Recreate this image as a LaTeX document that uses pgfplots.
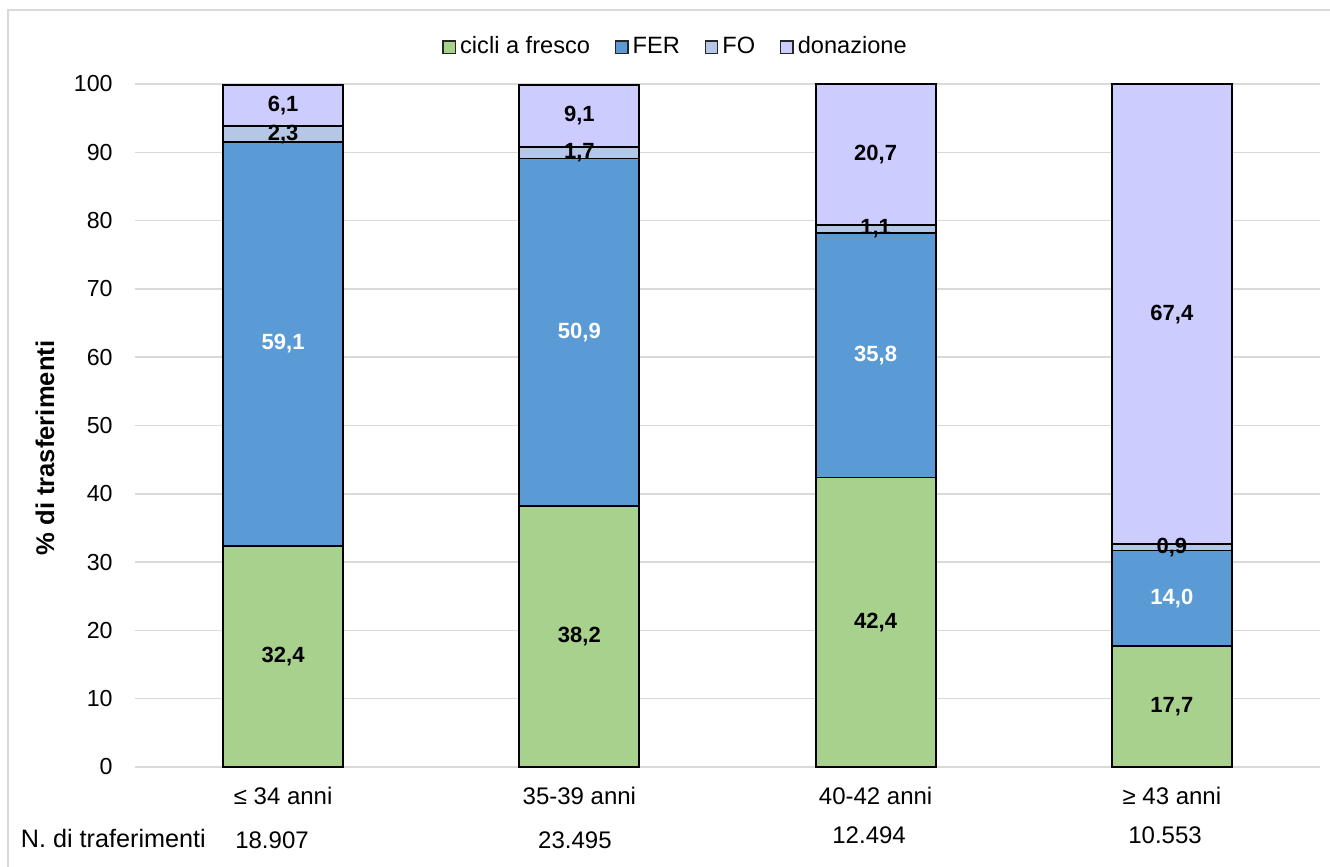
\documentclass[border=0pt]{standalone}
\usepackage{fontspec}
\setmainfont{Liberation Sans}
\usepackage{pgfplots}
\pgfplotsset{compat=1.18}
\definecolor{fresco}{HTML}{A9D18E}
\definecolor{fer}{HTML}{5B9BD5}
\definecolor{fo}{HTML}{B4C7E7}
\definecolor{don}{HTML}{CCCCFF}
\definecolor{gridgray}{HTML}{D9D9D9}
\begin{document}
\fontsize{12}{14}\selectfont
\begin{tikzpicture}
\useasboundingbox (-67.5pt,-50pt) rectangle (597.5pt,383.5pt);
\draw[gridgray, line width=0.7pt] (-63.5pt,-60pt) rectangle (610pt,378.5pt);
\begin{axis}[
  at={(0pt,0pt)}, anchor=south west,
  scale only axis, width=592.5pt, height=341.5pt,
  ybar stacked, bar width=60pt,
  xmin=-0.5, xmax=3.5, ymin=0, ymax=100,
  xtick={0,1,2,3},
  xticklabels={{≤ 34 anni},{35-39 anni},{40-42 anni},{≥ 43 anni}},
  ytick={0,10,...,100},
  axis x line*=bottom, axis y line*=left,
  y axis line style={draw=none},
  x axis line style={gridgray, line width=0.75pt, -},
  major tick length=0pt,
  ymajorgrids, grid style={gridgray, line width=0.75pt},
  /pgf/number format/assume math mode=true,
  yticklabel style={font=\fontsize{11.6}{13}\selectfont, xshift=-7pt},
  xticklabel style={font=\fontsize{12}{14}\selectfont, yshift=-6pt},
  ylabel={\bfseries\% di trasferimenti},
  ylabel style={at={(rel axis cs:-0.076,0.467)}, anchor=center, font=\fontsize{12.8}{15}\selectfont},
  clip=false,
  % stacked bars: labels sit in the middle of each segment
  point meta=rawy,
  nodes near coords={\pgfmathprintnumber[fixed,fixed zerofill,precision=1,use comma]{\pgfplotspointmeta}},
  every node near coord/.append style={anchor=center, font=\fontsize{11}{13}\selectfont\bfseries, text=black},
  legend columns=4,
  legend style={draw=none, fill=none, at={(0.457,1.054)}, anchor=center,
    font=\fontsize{11.8}{14}\selectfont,
    /tikz/every even column/.append style={column sep=10.4pt}},
  legend image code/.code={\draw[#1, draw=black!85, line width=0.7pt] (0pt,-3.1pt) rectangle (6.2pt,3.1pt);},
]
\addplot[fill=fresco, draw=black, line width=0.9pt] coordinates {(0,32.4) (1,38.2) (2,42.4) (3,17.7)};
\addplot[fill=fer, draw=black, line width=0.9pt, every node near coord/.append style={text=white}] coordinates {(0,59.1) (1,50.9) (2,35.8) (3,14.0)};
\addplot[fill=fo, draw=black, line width=0.9pt] coordinates {(0,2.3) (1,1.7) (2,1.1) (3,0.9)};
\addplot[fill=don, draw=black, line width=0.9pt] coordinates {(0,6.1) (1,9.1) (2,20.7) (3,67.4)};
\legend{cicli a fresco, FER, FO, donazione}
\node[font=\fontsize{12.6}{14}\selectfont] at (axis cs:-0.573,-10.4) {N. di traferimenti};
\node at (axis cs:-0.0375,-10.7) {18.907};
\node at (axis cs:0.985,-10.7) {23.495};
\node at (axis cs:1.978,-9.96) {12.494};
\node at (axis cs:2.977,-9.96) {10.553};
\end{axis}
\end{tikzpicture}
\end{document}
